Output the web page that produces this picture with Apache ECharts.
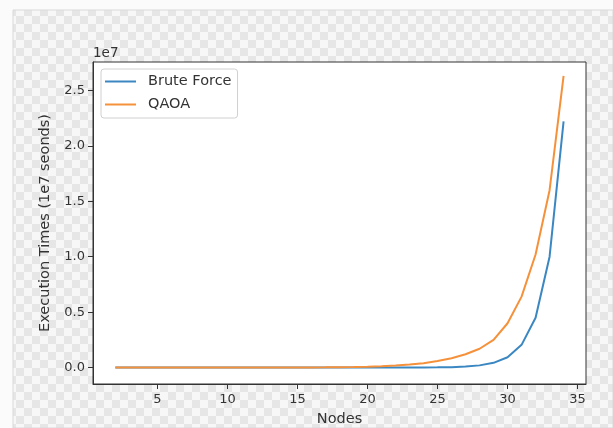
<!DOCTYPE html>
<html>
<head>
<meta charset="utf-8">
<script src="https://cdn.jsdelivr.net/npm/echarts@6/dist/echarts.min.js"></script>
<style>
    html, body { margin: 0; padding: 0; background: #fbfbfb; }
    #chart { width: 613px; height: 428px; }
</style>
</head>
<body>
<div id="chart"></div>
<script>
// number of nodes
const nodes = [2, 3, 4, 5, 6, 7, 8, 9, 10, 11, 12, 13, 14, 15, 16, 17, 18,
    19, 20, 21, 22, 23, 24, 25, 26, 27, 28, 29, 30, 31, 32, 33, 34];

// execution times, in units of 1e7 seconds
const bruteForce = [0, 0, 0, 0, 0, 0, 0, 0, 0, 0, 0, 0, 0, 0, 0, 0, 0,
    0, 0.0001, 0.0002, 0.0003, 0.0005, 0.0009, 0.002, 0.004, 0.009, 0.02, 0.043,
    0.093, 0.205, 0.45, 1.0, 2.22];
const qaoa = [0, 0, 0, 0, 0, 0, 0, 0, 0, 0, 0, 0, 0, 0.0008, 0.0013, 0.002, 0.003,
    0.005, 0.008, 0.012, 0.018, 0.027, 0.04, 0.06, 0.085, 0.12, 0.17, 0.25,
    0.40, 0.64, 1.02, 1.6, 2.63];

const xTicks = [5, 10, 15, 20, 25, 30, 35];
const yTicks = [0, 0.5, 1.0, 1.5, 2.0, 2.5];

// checkerboard for the transparent figure background
function checker() {
    const c = document.createElement('canvas');
    c.width = 16; c.height = 16;
    const ctx = c.getContext('2d');
    ctx.fillStyle = '#f7f7f7';
    ctx.fillRect(0, 0, 16, 16);
    ctx.fillStyle = '#e6e6e6';
    ctx.fillRect(0, 0, 8, 8);
    ctx.fillRect(8, 8, 8, 8);
    return c;
}

const chart = echarts.init(document.getElementById('chart'), null, { renderer: 'canvas' });

const tickText = { color: '#333', fontSize: 13, fontFamily: 'DejaVu Sans' };
const titleText = { color: '#333', fontSize: 14.5, fontFamily: 'DejaVu Sans' };

chart.setOption({
    animation: false,
    backgroundColor: '#fbfbfb',
    graphic: [
        {
            type: 'rect',
            z: -10,
            shape: { x: 13, y: 10, width: 600, height: 418 },
            style: { fill: { image: checker(), repeat: 'repeat' }, stroke: '#d9d9d9', lineWidth: 1 }
        },
        {
            type: 'text',
            left: 93, top: 46,
            style: { text: '1e7', fill: '#333', fontSize: 13.5, fontFamily: 'DejaVu Sans' }
        }
    ],
    grid: {
        left: 93, top: 62, right: 27, bottom: 44,
        outerBoundsMode: 'none',
        show: true,
        backgroundColor: '#fff',
        borderColor: '#333',
        borderWidth: 1
    },
    legend: {
        orient: 'vertical',
        left: 101, top: 69,
        icon: 'rect',
        itemWidth: 31, itemHeight: 2,
        itemGap: 8,
        padding: [5, 6, 6, 4],
        backgroundColor: '#fff',
        borderColor: '#d0d0d0',
        borderWidth: 1,
        borderRadius: 3,
        textStyle: Object.assign({ padding: [0, 0, 0, 7] }, titleText),
        data: ['Brute Force', 'QAOA']
    },
    xAxis: {
        type: 'value',
        min: 0.4, max: 35.6,
        name: 'Nodes',
        nameLocation: 'middle',
        nameGap: 28,
        nameTextStyle: titleText,
        axisLine: { show: true, onZero: false, lineStyle: { color: '#333' } },
        axisTick: { show: true, customValues: xTicks, length: 5, lineStyle: { color: '#333' } },
        axisLabel: Object.assign({ customValues: xTicks, margin: 9 }, tickText),
        splitLine: { show: false }
    },
    yAxis: {
        type: 'value',
        min: -0.148, max: 2.756,
        name: 'Execution Times (1e7 seonds)',
        nameLocation: 'middle',
        nameGap: 40,
        nameTextStyle: titleText,
        axisLine: { show: true, onZero: false, lineStyle: { color: '#333' } },
        axisTick: { show: true, customValues: yTicks, length: 5, lineStyle: { color: '#333' } },
        axisLabel: Object.assign({
            customValues: yTicks,
            margin: 8,
            formatter: v => v.toFixed(1)
        }, tickText),
        splitLine: { show: false }
    },
    series: [
        {
            name: 'Brute Force',
            type: 'line',
            data: nodes.map((n, i) => [n, bruteForce[i]]),
            showSymbol: false,
            symbol: 'none',
            color: '#3a87c2',
            lineStyle: { width: 2 }
        },
        {
            name: 'QAOA',
            type: 'line',
            data: nodes.map((n, i) => [n, qaoa[i]]),
            showSymbol: false,
            symbol: 'none',
            color: '#f5913b',
            lineStyle: { width: 2 }
        }
    ]
});
</script>
</body>
</html>
